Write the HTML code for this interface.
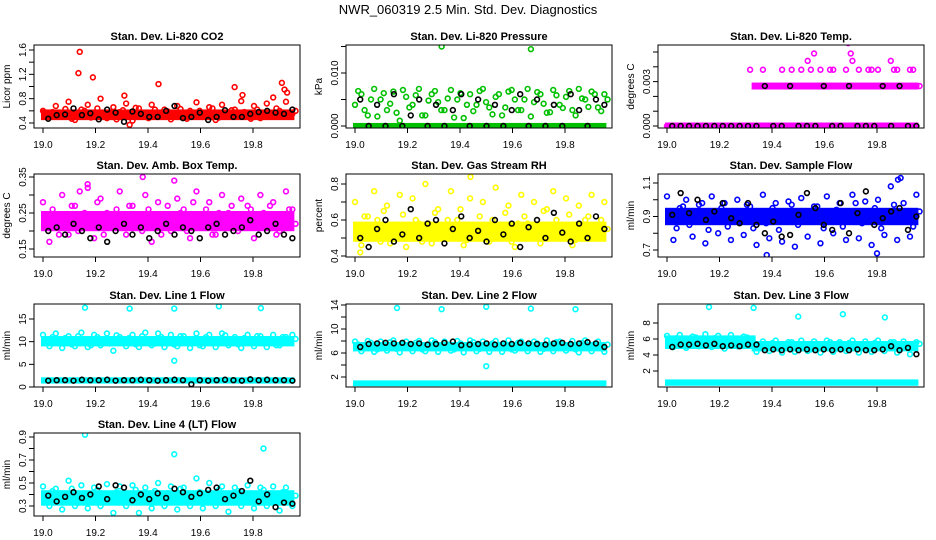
<!DOCTYPE html>
<html><head><meta charset="utf-8">
<style>
body{margin:0;background:#fff;}
svg{display:block;font-family:"Liberation Sans",sans-serif;}
</style></head>
<body>
<svg id="chart" width="936" height="540" viewBox="0 0 936 540">
<text x="468" y="14" text-anchor="middle" font-size="13">NWR_060319  2.5 Min. Std. Dev. Diagnostics</text>
</svg>
<script>
// ---- data ----
const xTicks = [19.0, 19.2, 19.4, 19.6, 19.8];
const xTickLabels = ["19.0", "19.2", "19.4", "19.6", "19.8"];
const titles = ["Stan. Dev. Li-820 CO2","Stan. Dev. Li-820 Pressure","Stan. Dev. Li-820 Temp.","Stan. Dev. Amb. Box Temp.","Stan. Dev. Gas Stream RH","Stan. Dev. Sample Flow","Stan. Dev. Line 1 Flow","Stan. Dev. Line 2 Flow","Stan. Dev. Line 3 Flow","Stan. Dev. Line 4 (LT) Flow"];
const yLabels = ["Licor ppm","kPa","degrees C","degrees C","percent","ml/min","ml/min","ml/min","ml/min","ml/min"];
const colors = ["#ff0000","#00c000","#ff00ff","#ff00ff","#ffff00","#0000ff","#00ffff","#00ffff","#00ffff","#00ffff"];
const yTicks = [[0.4,0.6,0.8,1.0,1.2,1.4,1.6],[0,0.005,0.01,0.015],[0,0.001,0.002,0.003,0.004,0.005],[0.15,0.2,0.25,0.3,0.35],[0.4,0.5,0.6,0.7,0.8],[0.7,0.8,0.9,1.0,1.1],[0,5,10,15],[2,4,6,8,10,12,14],[2,4,6,8],[0.3,0.4,0.5,0.6,0.7,0.8,0.9]];
const yTickLabels = [["0.4","","0.8","","1.2","","1.6"],["0.000","","0.010",""],["0.000","","","0.003","",""],["0.15","","0.25","","0.35"],["0.4","","0.6","","0.8"],["0.7","","0.9","","1.1"],["0","5","10","15"],["2","","6","","10","","14"],["2","4","6","8"],["0.3","","0.5","","0.7","","0.9"]];
// dense bands: [start time, end time, low, high]
const bands = [
 [[19.0,19.95,0.48,0.59]],
 [[19.0,19.95,0,0.0002]],
 [[19.0,19.95,0,0.0001],[19.33,19.95,0.0026,0.0028]],
 [[19.0,19.95,0.205,0.25]],
 [[19.0,19.95,0.49,0.58]],
 [[19.0,19.95,0.86,0.94]],
 [[19.0,19.95,9.4,10.8],[19.0,19.95,1.2,1.7]],
 [[19.0,19.95,6.6,7.5],[19.0,19.95,0.8,1.1]],
 [[19.0,19.33,5.0,6.2],[19.33,19.95,4.7,5.5],[19.0,19.95,0.4,0.7]],
 [[19.0,19.95,0.32,0.42]]
];
const scatter = [
 [0.6,0.5,0.68,0.55,0.75,0.45,0.62,0.7,0.52,0.8,0.48,0.66,0.58,0.72,0.44,0.64,0.55,0.7,0.5,0.62,0.46,0.68,0.56,0.6,0.74,0.5,0.66,0.45,0.7,0.58,0.62,0.76,0.52,0.68,0.48,0.72,0.82,0.6,0.75,0.55],
 [0.004,0.006,0.002,0.007,0.005,0.003,0.0065,0.001,0.0055,0.004,0.007,0.002,0.006,0.0045,0.003,0.0068,0.005,0.0015,0.006,0.004,0.007,0.0035,0.0055,0.002,0.0065,0.005,0.003,0.007,0.0045,0.006,0.0025,0.0068,0.004,0.0055,0.003,0.007,0.005,0.0065,0.0035,0.006],
 [0,0,0,0,0,0,0,0,0,0,0,0,0,0.0038,0.0027,0.0038,0,0.0027,0.0038,0.0027,0.0027,0.0038,0.0044,0.0049,0.0038,0.0027,0.0038,0.0027,0.0038,0.0044,0.0038,0.0027,0.0038,0.0038,0.0027,0.0044,0.0038,0.0027,0.0038,0.0027],
 [0.28,0.17,0.24,0.3,0.19,0.27,0.22,0.32,0.18,0.29,0.25,0.21,0.31,0.19,0.27,0.23,0.3,0.17,0.28,0.24,0.2,0.29,0.26,0.18,0.31,0.22,0.28,0.19,0.3,0.25,0.21,0.29,0.27,0.18,0.3,0.24,0.28,0.2,0.31,0.26],
 [0.7,0.46,0.62,0.76,0.48,0.68,0.55,0.74,0.45,0.72,0.58,0.8,0.47,0.66,0.52,0.76,0.6,0.46,0.72,0.56,0.7,0.48,0.78,0.55,0.68,0.45,0.74,0.58,0.7,0.47,0.66,0.76,0.52,0.72,0.46,0.68,0.6,0.74,0.5,0.7],
 [1.02,0.76,0.95,1.0,0.78,0.97,0.74,1.02,0.8,0.98,0.76,1.0,0.79,0.96,0.73,1.03,0.77,0.98,0.75,0.99,0.72,1.01,0.78,0.96,0.74,1.02,0.8,0.98,0.76,1.03,0.77,0.99,0.73,1.0,0.79,1.08,0.76,0.98,0.78,1.03],
 [11.5,9,11.8,8.6,11.2,9,12,8.8,11.5,9.2,11.8,8,11,9,11.5,8.8,12,9.2,11.8,8.8,11.5,9,11.2,8.6,11.8,9,11.5,8.8,11.8,9.2,11,8.6,11.5,9,11.2,8.8,11.5,9.2,11,11.5],
 [7.9,6.3,8.0,6.2,7.9,6.4,8.1,6.1,7.9,6.3,8.0,6.3,8.1,6.2,7.9,6.4,8.0,6.1,8.1,6.3,7.9,6.2,8.0,6.2,8.1,6.4,7.9,6.3,7.9,6.2,8.1,6.3,7.9,6.4,8.0,6.1,8.1,6.3,7.9,6.2],
 [6.4,5.0,6.5,4.9,6.3,5.1,6.6,5.0,6.4,4.8,6.5,5.1,6.3,5.8,4.4,5.7,4.5,5.8,4.3,5.6,4.4,5.8,4.5,5.7,4.3,5.8,4.4,5.6,4.5,5.8,4.3,5.7,4.4,5.8,4.5,5.6,4.3,5.7,4.1,5.6],
 [0.47,0.3,0.45,0.27,0.52,0.3,0.48,0.28,0.46,0.3,0.49,0.24,0.47,0.3,0.48,0.24,0.46,0.28,0.5,0.3,0.47,0.27,0.46,0.3,0.54,0.28,0.5,0.3,0.47,0.25,0.46,0.3,0.48,0.28,0.46,0.3,0.47,0.26,0.46,0.3]
];
const scatter2 = [
 [0.52,0.58,0.5,0.63,0.47,0.56,0.6,0.49,0.64,0.53,0.57,0.46,0.61,0.51,0.65,0.55,0.48,0.62,0.54,0.59,0.5,0.63,0.47,0.57,0.6,0.52,0.64,0.49,0.56,0.61,0.53,0.58,0.47,0.62,0.55,0.5,0.64,0.57,0.52,0.6],
 [0.0066,0.003,0.005,0.0018,0.0062,0.0042,0.0025,0.0068,0.0035,0.0058,0.002,0.0048,0.0066,0.003,0.0052,0.0016,0.0062,0.004,0.0028,0.0066,0.0045,0.0022,0.006,0.0035,0.0068,0.003,0.005,0.0018,0.0064,0.0042,0.0026,0.0058,0.0034,0.0066,0.002,0.0052,0.0036,0.006,0.0028,0.005],
 [0,0,0,0,0,0,0,0,0,0,0,0,0,0,0.0027,0,0.0027,0,0.0027,0.0038,0.0027,0.0027,0.0038,0.0027,0.0027,0.0038,0.0027,0.0027,0,0.0027,0.0027,0.0038,0.0027,0,0.0027,0.0038,0.0027,0.0027,0.0038,0.0027],
 [0.23,0.26,0.19,0.24,0.27,0.2,0.25,0.22,0.28,0.19,0.24,0.26,0.21,0.27,0.23,0.2,0.26,0.24,0.19,0.27,0.22,0.25,0.2,0.28,0.23,0.26,0.19,0.25,0.22,0.27,0.2,0.24,0.26,0.21,0.25,0.27,0.19,0.23,0.26,0.22],
 [0.55,0.62,0.5,0.6,0.65,0.47,0.57,0.63,0.52,0.6,0.48,0.58,0.64,0.51,0.6,0.55,0.66,0.49,0.57,0.62,0.5,0.6,0.54,0.64,0.48,0.58,0.62,0.51,0.56,0.65,0.5,0.6,0.55,0.63,0.49,0.57,0.62,0.52,0.6,0.55],
 [0.9,0.83,0.96,0.85,0.92,0.98,0.82,0.9,0.95,0.84,0.93,0.88,0.97,0.83,0.91,0.86,0.95,0.82,0.9,0.97,0.85,0.92,0.88,0.96,0.83,0.9,0.94,0.84,0.92,0.98,0.86,0.9,0.95,0.83,0.92,0.97,0.87,0.91,0.84,0.93],
 [10.2,11,9.6,10.8,9.4,11.2,10,9.2,11,10.4,9.6,11.4,9.8,10.8,9.4,11.2,10.4,9.6,11,10,9.4,11.2,9.8,10.6,9.2,11,10.2,9.6,11.4,10,9.4,10.8,9.8,11.2,9.6,10.4,9.2,11,10,10.6],
 [7.4,6.8,7.7,6.6,7.2,7.8,6.7,7.5,6.9,7.7,6.6,7.3,7.8,6.8,7.4,6.6,7.6,7.0,7.8,6.7,7.3,7.6,6.8,7.5,6.6,7.7,7.1,6.8,7.6,6.7,7.4,7.8,6.9,7.3,6.6,7.7,7.0,7.5,6.8,7.4],
 [5.6,6.1,5.3,5.9,6.2,5.4,5.8,6.1,5.2,5.7,6.0,5.5,6.2,5.1,5.3,4.9,5.5,4.8,5.2,5.6,4.9,5.3,4.7,5.4,5.0,5.6,4.8,5.2,5.5,4.9,5.3,4.7,5.5,5.0,5.2,5.6,4.8,5.3,5.0,5.4],
 [0.38,0.43,0.34,0.4,0.45,0.33,0.41,0.36,0.44,0.35,0.39,0.42,0.33,0.4,0.44,0.36,0.38,0.43,0.34,0.41,0.37,0.45,0.33,0.39,0.42,0.36,0.4,0.44,0.34,0.38,0.43,0.35,0.41,0.37,0.44,0.33,0.4,0.42,0.36,0.39]
];
const outlierT = [
 [19.14,19.135,19.19,19.44,19.73,19.91,19.92,19.93,19.31,19.33,19.76],
 [19.33,19.67],
 [19.69,19.7],
 [19.14,19.17,19.38,19.5],
 [19.44,19.02],
 [19.88,19.89,19.38,19.8],
 [19.16,19.33,19.5,19.67,19.83,19.5],
 [19.16,19.33,19.5,19.67,19.84,19.5],
 [19.16,19.33,19.5,19.67,19.83],
 [19.16,19.5,19.84]
];
const outlierV = [
 [1.57,1.22,1.15,1.04,0.99,1.06,0.95,0.9,0.85,0.37,0.86],
 [0.015,0.0145],
 [0.0056,0.0049],
 [0.31,0.33,0.35,0.34],
 [0.84,0.42],
 [1.12,1.13,0.67,0.68],
 [17.5,17.3,17.3,17.8,17.4,5.8],
 [13.5,13.3,13.7,13.4,13.3,3.8],
 [10,9.9,8.8,9.1,8.7],
 [0.92,0.75,0.8]
];
const blackV = [
 [0.47,0.53,0.54,0.64,0.53,0.56,0.46,0.62,0.57,0.42,0.59,0.55,0.5,0.5,0.6,0.68,0.48,0.5,0.57,0.45,0.5,0.61,0.5,0.5,0.55,0.58,0.6,0.57,0.55,0.62],
 [0.005,0,0.004,0,0.006,0,0.002,0.005,0,0.004,0,0.003,0.006,0,0.005,0,0.004,0,0.003,0.006,0,0.005,0,0.004,0,0.006,0.003,0,0.005,0.004],
 [0,0,0,0,0,0,0,0,0,0,0,0.0027,0,0,0.0027,0,0,0,0.0027,0,0,0.0027,0,0,0,0.0027,0,0.0027,0,0],
 [0.2,0.21,0.19,0.22,0.2,0.18,0.21,0.17,0.2,0.22,0.19,0.21,0.18,0.2,0.22,0.19,0.21,0.2,0.18,0.21,0.22,0.19,0.2,0.21,0.23,0.19,0.2,0.22,0.19,0.18],
 [0.5,0.45,0.55,0.6,0.48,0.52,0.66,0.5,0.58,0.6,0.47,0.55,0.62,0.5,0.54,0.48,0.6,0.52,0.58,0.45,0.56,0.6,0.5,0.64,0.53,0.48,0.58,0.5,0.62,0.55],
 [0.91,1.04,0.92,1.0,0.88,0.93,0.98,0.89,0.86,0.98,0.85,0.8,0.87,0.78,0.79,0.91,1.04,0.95,0.85,0.82,0.98,0.8,0.92,1.05,0.85,0.89,0.93,0.95,0.82,0.9],
 [1.4,1.5,1.5,1.4,1.6,1.5,1.5,1.6,1.4,1.5,1.5,1.6,1.5,1.4,1.5,1.6,1.5,0.6,1.5,1.4,1.5,1.6,1.5,1.4,1.7,1.5,1.6,1.5,1.5,1.4],
 [7.0,7.5,7.6,7.7,7.6,7.7,7.5,7.6,7.4,7.5,7.7,7.9,7.3,7.4,7.5,7.6,7.4,7.6,7.5,7.7,7.6,7.5,7.4,7.6,7.7,7.5,7.6,7.8,7.6,7.0],
 [5.0,5.3,5.3,5.4,5.2,5.4,5.1,5.2,5.1,5.3,5.3,4.6,4.7,4.6,4.7,4.6,4.7,4.6,4.7,4.6,4.7,4.6,4.7,4.6,4.6,4.7,5.1,4.6,4.9,4.1],
 [0.39,0.34,0.38,0.42,0.37,0.4,0.47,0.36,0.48,0.46,0.35,0.4,0.36,0.41,0.37,0.45,0.42,0.38,0.41,0.44,0.46,0.36,0.39,0.43,0.52,0.34,0.4,0.29,0.33,0.32]
];
// ---- layout (positions, not data) ----
const colLeft = [34, 346, 658], rowTop = [45, 174, 304, 433];
const boxW = 266, boxH = 83;
const yCal = [[0.4,123,1.6,50],[0,126,0.01,73],[0,126,0.005,52],[0.15,249,0.35,177],[0.4,256,0.8,184],[0.7,250,1.1,183],[0,387,15,319],[2,377,14,305],[2,371,8,323],[0.3,506,0.9,437]];
const NS = "http://www.w3.org/2000/svg";
const svg = document.getElementById("chart");
function mk(tag, attrs, parent){const e=document.createElementNS(NS,tag);for(const k in attrs)e.setAttribute(k,attrs[k]);(parent||svg).appendChild(e);return e;}
for(let p=0;p<10;p++){
  const L = colLeft[p%3], T = rowTop[Math.floor(p/3)], R = L+boxW, B = T+boxH;
  const xs = t => L+9+(t-19.0)*262.5;
  const c = yCal[p];
  const ys = v => c[1]+(v-c[0])*(c[3]-c[1])/(c[2]-c[0]);
  const g = mk("g",{});
  
  
  const cp = mk("clipPath",{id:"cp"+p},g);
  mk("rect",{x:L,y:T,width:boxW,height:boxH},cp);
  const pg = mk("g",{"clip-path":"url(#cp"+p+")"},g);
  bands[p].forEach(b=>{
    const r = mk("rect",{x:xs(b[0])-2,y:ys(b[3])-2,width:xs(b[1])-xs(b[0])+4,height:ys(b[2])-ys(b[3])+4,fill:colors[p]},pg);
    
    
  });
  [scatter[p], scatter2[p]].forEach((arr,k)=>{
    const n = arr.length;
    arr.forEach((v,i)=>{
      const t = 19.0+(i+k*0.5)*0.95/(n-1);
      const ci = mk("circle",{cx:xs(t),cy:ys(v),r:2.4,fill:"none",stroke:colors[p],"stroke-width":1.6},pg);
      
      
    });
  });
  outlierT[p].forEach((t,i)=>{
    const ci = mk("circle",{cx:xs(t),cy:ys(outlierV[p][i]),r:2.4,fill:"none",stroke:colors[p],"stroke-width":1.6},pg);
    
    
  });
  const nb = blackV[p].length;
  blackV[p].forEach((v,i)=>{
    const t = 19.02+i*0.93/(nb-1);
    const ci = mk("circle",{cx:xs(t),cy:ys(v),r:2.4,fill:"none",stroke:"#000","stroke-width":1.6},pg);
    
    
  });
  const box = mk("rect",{x:L,y:T,width:boxW,height:boxH,fill:"none",stroke:"#000","stroke-width":1},g);
  
  
  const tt = mk("text",{x:L+boxW/2,y:T-5,"text-anchor":"middle","font-size":"11","font-weight":"bold"},g);
  tt.textContent = titles[p];
  
  
  xTicks.forEach((t,i)=>{
    mk("line",{x1:xs(t),x2:xs(t),y1:B,y2:B+5,stroke:"#000"},g);
    const lb = mk("text",{x:xs(t),y:B+20,"text-anchor":"middle","font-size":"10"},g);
    lb.textContent = xTickLabels[i];
    
    
  });
  yTicks[p].forEach((v,i)=>{
    const y = ys(v);
    if(y<T-1||y>B+1) return;
    mk("line",{x1:L-5,x2:L,y1:y,y2:y,stroke:"#000"},g);
    if(yTickLabels[p][i]){
      const lb = mk("text",{x:0,y:0,"text-anchor":"middle","font-size":"10",transform:`translate(${L-8},${y}) rotate(-90)`},g);
      lb.textContent = yTickLabels[p][i];
      
      
    }
  });
  const yl = mk("text",{x:0,y:0,"text-anchor":"middle","font-size":"10",transform:`translate(${L-24},${T+boxH/2}) rotate(-90)`},g);
  yl.textContent = yLabels[p];
  
  
}
</script>
</body></html>
